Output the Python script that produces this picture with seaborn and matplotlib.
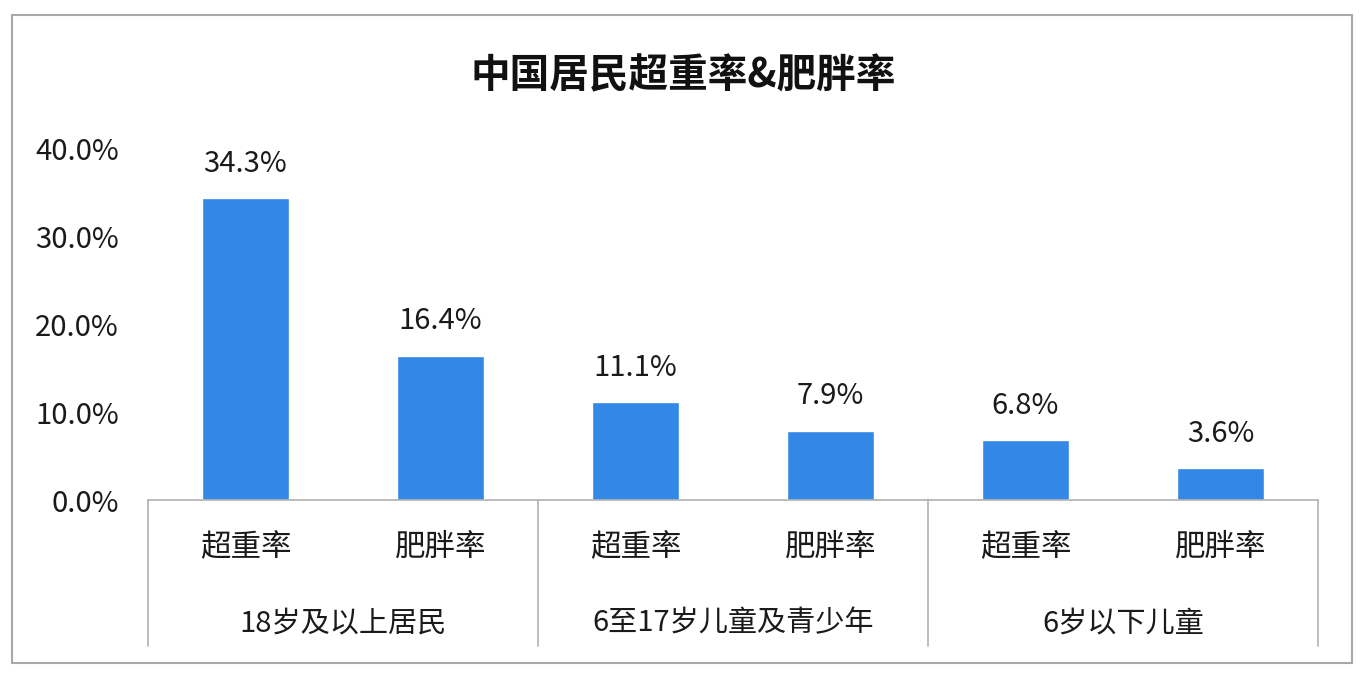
import pandas as pd
import matplotlib
matplotlib.use("Agg")
import matplotlib.pyplot as plt
import matplotlib.patches as patches
from matplotlib.ticker import FuncFormatter
import seaborn as sns

# Dados do gráfico
groups = ["18岁及以上居民", "6至17岁儿童及青少年", "6岁以下儿童"]
metrics = ["超重率", "肥胖率"]
values = [34.3, 16.4, 11.1, 7.9, 6.8, 3.6]
yticks = [0, 10, 20, 30, 40]

sns.set_style("white")
plt.rcParams["font.family"] = ["Noto Sans CJK SC", "DejaVu Sans"]

rows = []
for i, g in enumerate(groups):
    for j, m in enumerate(metrics):
        rows.append({"key": f"{g}-{m}", "group": g, "metric": m, "value": values[i * 2 + j]})
df = pd.DataFrame(rows)

fig = plt.figure(figsize=(13.66, 6.73), dpi=100)
ax = fig.add_axes([0.1083, 0.257, 0.8566, 0.523])

sns.barplot(data=df, x="key", y="value", color="#3388E5", width=0.45,
            saturation=1, ax=ax)

ax.set_ylim(0, 40)
ax.set_yticks(yticks)
ax.yaxis.set_major_formatter(FuncFormatter(lambda v, p: f"{v:.1f}%"))
ax.set_xticks(range(len(df)))
ax.set_xticklabels(df["metric"])
ax.set_xlabel("")
ax.set_ylabel("")
ax.tick_params(axis="y", length=0, pad=21, labelsize=21, labelcolor="#1a1a1a")
ax.tick_params(axis="x", length=0, pad=23, labelsize=22, labelcolor="#1a1a1a")

for s in ["left", "top", "right"]:
    ax.spines[s].set_visible(False)
ax.spines["bottom"].set_color("#b0b0b0")
ax.spines["bottom"].set_linewidth(1.2)

# rótulos de valor
ax.bar_label(ax.containers[0], labels=[f"{v:.1f}%" for v in df["value"]],
             padding=14, fontsize=21, color="#1a1a1a")

# rótulos de grupo e separadores
trans = ax.get_xaxis_transform()
for i, g in enumerate(groups):
    ax.text(i * 2 + 0.5, -0.35, g, transform=trans, ha="center", va="center",
            fontsize=21, color="#1a1a1a")
for x in [-0.5, 1.5, 3.5, 5.5]:
    ax.plot([x, x], [0, -0.415], transform=trans, color="#b0b0b0", lw=1.2,
            clip_on=False)
ax.set_xlim(-0.5, 5.5)

fig.text(683 / 1366, 0.887, "中国居民超重率&肥胖率", ha="center", va="center",
         fontsize=28.5, fontweight="bold", color="#111111")

# moldura
fig.patches.append(patches.Rectangle((12 / 1366, 10 / 673), 1340 / 1366, 648 / 673,
                                     transform=fig.transFigure, fill=False,
                                     edgecolor="#a8a8a8", lw=1.5))

fig.savefig("out.png", dpi=100)
